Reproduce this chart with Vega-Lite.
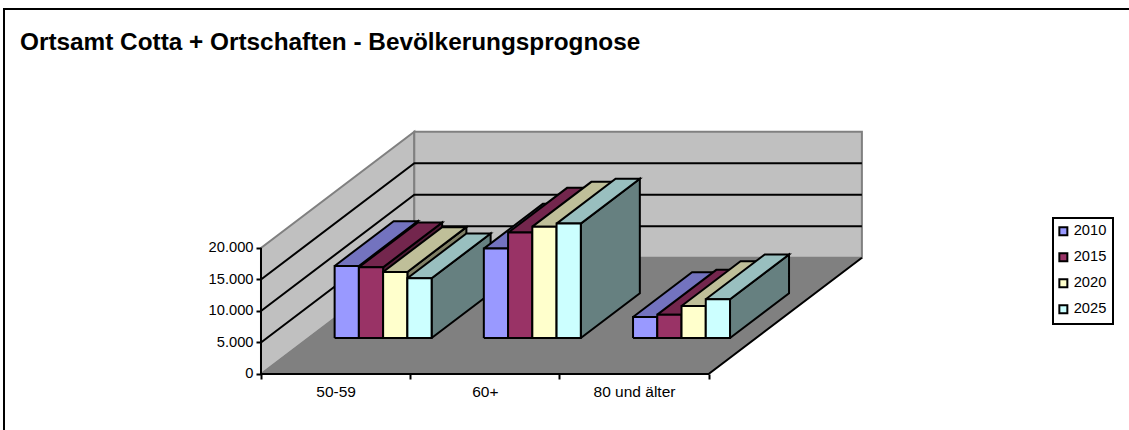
{
"$schema":"https://vega.github.io/schema/vega-lite/v6.json",
"width":1129,"height":430,"padding":0,"autosize":{"type":"none"},"background":"white",
"title":{"text":"Ortsamt Cotta + Ortschaften - Bevölkerungsprognose","anchor":"start","frame":"group","orient":"top","offset":0,"dx":20,"dy":74,"baseline":"alphabetic","font":"Liberation Sans","fontSize":24.35,"fontWeight":"bold","color":"#000000"},
"config":{"view":{"stroke":null},"axis":{"labelFont":"Liberation Sans","labelColor":"#000000","title":null},"legend":{"labelFont":"Liberation Sans","strokeWidth":2}},
"datasets":{
"walls":[
{"panel":"side","k":0,"c":0,"d":0,"v":0},{"panel":"side","k":1,"c":0,"d":1,"v":0},{"panel":"side","k":2,"c":0,"d":1,"v":20000},{"panel":"side","k":3,"c":0,"d":0,"v":20000},{"panel":"side","k":4,"c":0,"d":0,"v":0},
{"panel":"back","k":0,"c":0,"d":1,"v":0},{"panel":"back","k":1,"c":3,"d":1,"v":0},{"panel":"back","k":2,"c":3,"d":1,"v":20000},{"panel":"back","k":3,"c":0,"d":1,"v":20000},{"panel":"back","k":4,"c":0,"d":1,"v":0}],
"floor":[
{"panel":"floor","k":0,"c":0,"d":0,"v":0},{"panel":"floor","k":1,"c":3,"d":0,"v":0},{"panel":"floor","k":2,"c":3,"d":1,"v":0},{"panel":"floor","k":3,"c":0,"d":1,"v":0},{"panel":"floor","k":4,"c":0,"d":0,"v":0}],
"grid":[
{"panel":"g5","k":0,"c":0,"d":0,"v":5000},{"panel":"g5","k":1,"c":0,"d":1,"v":5000},{"panel":"g5","k":2,"c":3,"d":1,"v":5000},
{"panel":"g10","k":0,"c":0,"d":0,"v":10000},{"panel":"g10","k":1,"c":0,"d":1,"v":10000},{"panel":"g10","k":2,"c":3,"d":1,"v":10000},
{"panel":"g15","k":0,"c":0,"d":0,"v":15000},{"panel":"g15","k":1,"c":0,"d":1,"v":15000},{"panel":"g15","k":2,"c":3,"d":1,"v":15000}],
"edges":[
{"panel":"axis","k":0,"c":0,"d":0,"v":20000},{"panel":"axis","k":1,"c":0,"d":0,"v":0},{"panel":"axis","k":2,"c":3,"d":0,"v":0},{"panel":"axis","k":3,"c":3,"d":1,"v":0}],
"frame":[{"X":-1.7225,"Y":-8889,"k":0},{"X":-1.7225,"Y":57937,"k":1},{"X":5.8177,"Y":57937,"k":2}],
"bars":[
{"gruppe":"50-59","jahr":"2010","wert":11430},{"gruppe":"50-59","jahr":"2015","wert":11220},{"gruppe":"50-59","jahr":"2020","wert":10480},{"gruppe":"50-59","jahr":"2025","wert":9470},
{"gruppe":"60+","jahr":"2010","wert":14180},{"gruppe":"60+","jahr":"2015","wert":16720},{"gruppe":"60+","jahr":"2020","wert":17670},{"gruppe":"60+","jahr":"2025","wert":18150},
{"gruppe":"80 und älter","jahr":"2010","wert":3330},{"gruppe":"80 und älter","jahr":"2015","wert":3700},{"gruppe":"80 und älter","jahr":"2020","wert":5080},{"gruppe":"80 und älter","jahr":"2025","wert":6140}]
},
"layer":[
{"data":{"name":"frame"},"mark":{"type":"line","stroke":"#000000","strokeWidth":2},
"encoding":{"x":{"field":"X","type":"quantitative","scale":{"domain":[-1.7493,5.8177],"nice":false,"zero":false},
"axis":{"orient":"bottom","offset":-56,"values":[0,1,2,3],"domain":false,"grid":false,"tickSize":5,"tickWidth":2,"tickColor":"#000000","labelExpr":"['50-59','60+','80 und älter',''][datum.value]","labelOffset":74.6,"labelFontSize":15.5,"labelPadding":5,"labelFlush":false,"labelOverlap":false,"zindex":1,"title":null}},
"y":{"field":"Y","type":"quantitative","scale":{"domain":[-8889,59365],"nice":false,"zero":false},
"axis":{"orient":"left","offset":-261,"values":[0,5000,10000,15000,20000],"domain":false,"grid":false,"tickSize":5,"tickWidth":2,"tickColor":"#000000","labelExpr":"replace(format(datum.value,','),',','.')","labelFontSize":14.7,"labelPadding":3,"labelOverlap":false,"zindex":1,"title":null}},
"order":{"field":"k","type":"quantitative"}}},
{"data":{"name":"walls"},"transform":[{"calculate":"datum.c+datum.d*1.0275","as":"X"},{"calculate":"datum.v+datum.d*18460","as":"Y"}],
"mark":{"type":"line","fill":"#C0C0C0","stroke":"#808080","strokeWidth":2},
"encoding":{"x":{"field":"X","type":"quantitative"},"y":{"field":"Y","type":"quantitative"},"detail":{"field":"panel"},"order":{"field":"k","type":"quantitative"}}},
{"data":{"name":"grid"},"transform":[{"calculate":"datum.c+datum.d*1.0275","as":"X"},{"calculate":"datum.v+datum.d*18460","as":"Y"}],
"mark":{"type":"line","stroke":"#000000","strokeWidth":2},
"encoding":{"x":{"field":"X","type":"quantitative"},"y":{"field":"Y","type":"quantitative"},"detail":{"field":"panel"},"order":{"field":"k","type":"quantitative"}}},
{"data":{"name":"floor"},"transform":[{"calculate":"datum.c+datum.d*1.0275","as":"X"},{"calculate":"datum.v+datum.d*18460","as":"Y"}],
"mark":{"type":"line","fill":"#808080","stroke":"#808080","strokeWidth":1},
"encoding":{"x":{"field":"X","type":"quantitative"},"y":{"field":"Y","type":"quantitative"},"order":{"field":"k","type":"quantitative"}}},
{"data":{"name":"edges"},"transform":[{"calculate":"datum.c+datum.d*1.0275","as":"X"},{"calculate":"datum.v+datum.d*18460","as":"Y"}],
"mark":{"type":"line","stroke":"#000000","strokeWidth":2},
"encoding":{"x":{"field":"X","type":"quantitative"},"y":{"field":"Y","type":"quantitative"},"order":{"field":"k","type":"quantitative"}}},
{"data":{"name":"bars"},"transform":[
{"calculate":"indexof(['50-59','60+','80 und älter'],datum.gruppe)","as":"c"},
{"calculate":"indexof(['2010','2015','2020','2025'],datum.jahr)","as":"s"},
{"calculate":"['side','top','front']","as":"face"},{"flatten":["face"]},
{"calculate":"[0,1,2,3,4]","as":"k"},{"flatten":["k"]},
{"calculate":"{side:[1,1,1,1,1],top:[0,1,1,0,0],front:[0,1,1,0,0]}[datum.face][datum.k]","as":"a"},
{"calculate":"{side:[0,0,1,1,0],top:[1,1,1,1,1],front:[0,0,1,1,0]}[datum.face][datum.k]","as":"h"},
{"calculate":"{side:[0,1,1,0,0],top:[0,0,1,1,0],front:[0,0,0,0,0]}[datum.face][datum.k]","as":"t"},
{"calculate":"0.31+datum.t*0.385","as":"d"},
{"calculate":"datum.c+0.175+(datum.s+datum.a)*0.1625+datum.d*1.0275","as":"X"},
{"calculate":"datum.h*datum.wert+datum.d*18460","as":"Y"},
{"calculate":"datum.gruppe+datum.jahr+datum.face","as":"key"},
{"calculate":"datum.face=='front'?datum.jahr:datum.jahr+' '+datum.face","as":"tone"}],
"mark":{"type":"line","stroke":"#000000","strokeWidth":2},
"encoding":{"x":{"field":"X","type":"quantitative"},"y":{"field":"Y","type":"quantitative"},
"detail":{"field":"key"},"order":{"field":"k","type":"quantitative"},
"fill":{"field":"tone","type":"nominal","sort":null,
"scale":{"domain":["2010","2015","2020","2025","2010 top","2015 top","2020 top","2025 top","2010 side","2015 side","2020 side","2025 side"],
"range":["#9999FF","#993366","#FFFFCC","#CCFFFF","#7373BF","#73264D","#BFBF99","#99BFBF","#4D4D80","#4D1A33","#808066","#668080"]},
"legend":{"values":["2010","2015","2020","2025"],"title":null,"orient":"none","legendX":1053,"legendY":218,"symbolType":"square","symbolSize":64,"symbolStrokeColor":"#000000","symbolStrokeWidth":2,"symbolOffset":-3,"labelFontSize":14.7,"labelColor":"#000000","labelOffset":3,"rowPadding":9,"padding":6,"strokeColor":"#000000","cornerRadius":0}}}}
]}
